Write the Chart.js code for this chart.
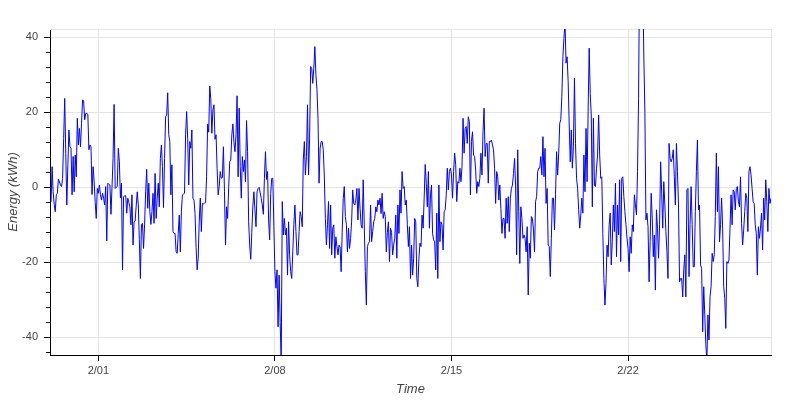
<!DOCTYPE html>
<html>
<head>
<meta charset="utf-8">
<script src="https://cdn.jsdelivr.net/npm/chart.js@4.4.0/dist/chart.umd.min.js"></script>
<style>
  html, body { margin: 0; padding: 0; background: #fff; }
</style>
</head>
<body>
<canvas id="energyChart" width="800" height="400"></canvas>
<script>
// hourly readings, hour 0 = 2/01 00:00, first reading 1/30 02:00
const firstHour = -46;
const lastHour = 640;

const energy = [
    // 1/30 02:00 - 2/02 11:00
    -3.4, -3.8, 5.5, -1.2, -4.5, -6.5, -2.0, -1.6, 2.2, 1.4,
    0.6, 0.2, 2.4, 13, 23.7, 9, -4.7, 6, 15.3, 10.8,
    10.4, -2.0, 8.2, -1.2, 8.6, 2.8, 18.4, 11.3, 15.7, 10.8,
    17, 23.3, 23.0, 18.0, 19.7, 19.7, 19.5, 10.0, 11.3, 10.8,
    -1.9, 5.5, 1.5, -4, -8.3, -0.3, -1.6, 0.6, -2, -3.4,
    -1.6, -2.9, -4.7, 0.2, -14.3, 1.1, 0.8, 0.6, -7.2, 0,
    7.7, 22.1, -0.3, 0, 0.2, 10.4, 6.8, -2.8, 1.1, -22.0,
    -2.5, -2.3, -2.2, -6.9, -2.9, -4, -5.2, -10.0, -2.0, -15.4,
    -9.2, -9.0,
    // 2/02 12:00 - 2/06 00:00
    -5, -1.2, -4.7, -14, -24.3, -10.0, -9.6, -16.3, -10.0, -1.2,
    4.8, -5.6, 1.1, -6.5, -9.9, -6.5, -1.6, -9.6, 3.7, -8.3,
    -2.9, 1.1, -5.2, 7.7, 11.3, 5.5, -5.4, 7.7, 18.8, 19.3,
    25.2, 14.0, 12.2, -2, 6.0, -11.8, -12.3, -12.3, -17.2, -17.6,
    -12.3, -7.4, -17.2, -6.5, -2.0, -1.8, -1.6, 14.0, 20.2, 13.1,
    0.6, 12.2, 10.4, 15.3, -2.9, -3.4, -7, -16, -22.0, -18.9,
    -9, -2.9, -11.8, -4.3, -4.4, -4.2, -4.1, 2.8, 16.9, 14.7,
    27.0, 23.6, 14.4, 20.6, 22.0, 12.8, 14.0, 5, -2.0, 0.2,
    4.2, 2.4, 2.6, 10.8, -1.2,
    // 2/06 01:00 - 2/09 14:00
    -15.4, -5.2, -8.3, 0, 6.8, 7.3, 14, 16.9, 12, 9.5,
    14.0, 24.4, 2.8, 21.1, 5.5, -2.9, 8.2, 4.2, 7.3, 1.5,
    17.8, 9.5, -9.2, -15.4, -19.2, -12, -5, -1.2, -6.0, -10.5,
    -1.2, -0.3, 0, -1.5, -3, -4.7, -7.2, 2.4, 9.5, 2.1,
    4.2, -8.7, -14.0, -1.6, 2.4, 2.4, -10.5, -22.5, -26.9, -22.0,
    -37.2, -23.4, -36, -47, -3.8, -12.7, -8.3, -12.7, -10.9, -23.4,
    -9.2, -18.0, -22.5, -24.3, -17.2, -10, -4.7, -11.8, -18.0, -18.0,
    -11.8, -6.5, -7.8, -10.5, 7.3, 12.2, 3.3, 8.2, 22.0, 3.3,
    13.1, 32.2, 31.7, 27.7, 31.7, 37.5,
    // 2/09 15:00 - 2/13 04:00
    30, 26.0, 18.4, 1.1, 10.4, 12.2, 12.2, 10, 3, -8.3,
    -15.4, -10.0, -3.8, -16.3, -4.7, -18.0, -10.9, -10.0, -18.9, -13.2,
    -15.8, -18.0, -15.4, -16, -22.5, -12, -3, 0.2, -7.8, -10,
    -17.2, -10.9, -16.3, -13.6, -9, -0.7, -4.3, -4.7, -3.4, -0.3,
    -8.7, -0.3, -5.6, -10.0, -10.9, 2.0, -10.0, -22.5, -31.4, -15.8,
    -14.9, -14.5, -4.7, -14.5, -11.8, -9.2, -8.3, -5.2, -6.5, -3.4,
    -4.7, -2.9, -7, -1.6, -8.3, -6.5, -7.8, -17.2, -12, -9.2,
    -19.8, -10.9, -12, -18.0, -15.4, -13.6, -7.4, -18.9, -4.7, -12.3,
    -0.7, -6.9, 4.2, -0.3, 0.2, -4.7,
    // 2/13 05:00 - 2/16 17:00
    -3.4, -10.0, -15.8, -10.5, -24.3, -15.4, -23.4, -18.9, -8.3, -9.2,
    -24.3, -26.5, -18.9, -14.9, -15.8, -7.4, -10.9, -2.9, 6.1, 1.1,
    -5.2, 4.2, -10.9, -2.0, 0.6, -12.3, -14.0, -14.5, -22.0, -6.9,
    -24.3, 0.6, -14.5, -9.2, -10.0, -16.7, -6.5, -6.0, -2.0, 5.1,
    -0.7, 4.2, 5.1, 3.3, -2.9, 4.2, 9.1, 6.0, -3.8, 1.5,
    1.1, 5.1, 1.5, 5.5, 18.4, 9.1, 15.7, 16.2, 11.7, 18.8,
    17.5, -2.0, 12.2, 14.8, 8.6, 8.2, 4.6, -1.6, 1.5, 0.2,
    2.4, 9.1, 3.3, 14.8, 21.1, 8.2, 11.7, 11.7, 1.1, 12.2,
    12.2, 12.6, 11.3, 10.0, 5.1,
    // 2/16 18:00 - 2/20 07:00
    -4.3, 4.2, 2.8, -3.4, 0.6, -5.6, -12.3, -8.3, -8.3, -13.6,
    -2.9, -9.6, -2.5, -11.8, -2.9, -0.3, 0.6, 3.7, 7.7, 0.6,
    -18.0, 10.0, -6.5, -20.3, -5.2, -8.3, -13.6, -12.7, -13.6, -17.2,
    -10.5, -28.7, -14.9, -18.9, -7.8, -8.3, -11.4, -17.2, -3.8, -2.5,
    4.2, 5.1, 5.1, 8.2, 3.3, 13.5, 2.8, 10.4, -4.3, -0.3,
    -15.4, -15.8, -23.8, -13.6, -2.9, -2.9, -11.4, -2.0, 9.5, 3.3,
    9.1, 17.1, 18.0, 24.2, 34.8, 39.7, 44, 33.1, 34.8, 28.2,
    16.6, 6.8, 15.3, 5.1, 10.8, 29.1, 11.7, 2.4, -0.3, -6.0,
    -10.9, -7.4, -2.9, -6.9, 8.6, -1.2,
    // 2/20 08:00 - 2/23 21:00
    15.7, 1.5, 20.2, 37.1, 25, 19.3, -5.2, 18.4, 0.6, 0.2,
    5.1, 8.6, 19.3, 8.6, 2.4, 2.8, -12.3, -24.3, -31.4, -25.6,
    -15.4, -18.5, -10.0, -6.9, -20.7, -14.5, -4.7, -11.8, 1.1, -18.5,
    -4.7, -12.7, 2.0, -19.8, 2.4, 2.8, -2.5, -6.5, -10, -13.6,
    -16.3, -22.5, -13.2, -17.6, -10.0, -11.8, -2.0, -4.7, -7.4, 4.2,
    23.7, 60, 65, 65, 55, 35, 20, -8.7, -6.9, -10.5,
    -25.2, -14.5, -1.6, -8.3, -18.5, -12.7, -27.4, -6.0, -10.9, -18.9,
    -10.0, 6.8, -1.6, -10.9, 1.5, -4.7, -11.8, -17.2, -24.3, 11.7,
    7.7, 6.8, 7.7, 10.0, 2.8, -4.7,
    // 2/23 22:00 - 2/27 16:00
    11.7, 4.2, -4.7, -25.2, -24.3, -24.3, -29.2, -22, -18.0, -29.2,
    -0.7, -0.3, -23.8, -10, 0.2, -10, -21.2, -21.2, -6.5, 4.2,
    12.6, -6.0, -4.7, -20.7, -21.6, -38.5, -26.5, -34.0, -42.0, -46,
    -34.0, -40.7, -29.2, -26.5, -17.6, -19.8, -18.0, -7.8, 9.1, -6.5,
    5.5, -14.5, -10.0, -2.9, -10.9, -26.5, -29.6, -37.6, -19.8, -20.3,
    -19.4, -10.9, -2.0, -10.0, -0.7, -1.2, -6.0, -0.3, 0.2, -3.8,
    -5.2, 2.8, -9.6, -15.4, -11.4, -6.5, -1.6, -2.9, -11.8, 4.2,
    5.5, 3.3, -0.3, -3.8, -4.3, -10.0, -12.3, -23.4, -10.5, -13.6,
    -10.9, -6.9, -16.7, -2.9, -8.7, 2.0, -3.8, -11.8, -0.3, -4.3, -2.9
];

const xTickHours = [0, 168, 336, 504];
const xTickLabels = ["2/01", "2/08", "2/15", "2/22"];
const yMajorTicks = [-40, -20, 0, 20, 40];
const yMinorTicks = [-44, -36, -32, -28, -24, -16, -12, -8, -4, 4, 8, 12, 16, 24, 28, 32, 36];
const yMin = -44.7;
const yMax = 42.2;

const points = energy.map((v, i) => ({ x: firstHour + i, y: v }));

const fontFamily = "'Liberation Sans', Arial, Helvetica, sans-serif";

// light frame on top/right plus short minor ticks on the y axis
const frameAndMinor = {
    id: "frameAndMinor",
    beforeDatasetsDraw(chart) {
        const { ctx, chartArea } = chart;
        ctx.save();
        ctx.strokeStyle = "#e5e5e5";
        ctx.lineWidth = 1;
        ctx.beginPath();
        ctx.moveTo(chartArea.left, chartArea.top + 0.5);
        ctx.lineTo(chartArea.right + 0.5, chartArea.top + 0.5);
        ctx.lineTo(chartArea.right + 0.5, chartArea.bottom);
        ctx.stroke();
        ctx.restore();
    },
    afterDraw(chart) {
        const { ctx, chartArea } = chart;
        const y = chart.scales.y;
        ctx.save();
        ctx.strokeStyle = "#000";
        ctx.lineWidth = 1;
        ctx.beginPath();
        yMinorTicks.forEach((v) => {
            const py = Math.round(y.getPixelForValue(v)) + 0.5;
            ctx.moveTo(chartArea.left - 4, py);
            ctx.lineTo(chartArea.left, py);
        });
        ctx.stroke();
        ctx.restore();
    }
};

new Chart(document.getElementById("energyChart"), {
    type: "line",
    data: {
        datasets: [{
            data: points,
            borderColor: "#0000ff",
            borderWidth: 1,
            pointRadius: 0,
            tension: 0,
            fill: false
        }]
    },
    options: {
        responsive: false,
        animation: false,
        devicePixelRatio: 1,
        layout: { padding: { top: 29, right: 29, left: 0, bottom: 0 } },
        plugins: {
            legend: { display: false },
            tooltip: { enabled: false }
        },
        scales: {
            x: {
                type: "linear",
                min: firstHour,
                max: lastHour,
                afterBuildTicks: (scale) => {
                    scale.ticks = xTickHours.map((v) => ({ value: v }));
                },
                afterFit: (scale) => { scale.height = 45; },
                ticks: {
                    autoSkip: false,
                    maxRotation: 0,
                    padding: 3,
                    color: "#444",
                    font: { family: fontFamily, size: 11 },
                    callback: (v) => xTickLabels[xTickHours.indexOf(v)]
                },
                grid: { color: "#e5e5e5", tickColor: "#000", tickLength: 6 },
                border: { color: "#000", width: 1 },
                title: {
                    display: true,
                    text: "Time",
                    color: "#444",
                    padding: { top: 0, bottom: 3 },
                    font: { family: fontFamily, size: 13, style: "italic" }
                }
            },
            y: {
                min: yMin,
                max: yMax,
                afterBuildTicks: (scale) => {
                    scale.ticks = yMajorTicks.map((v) => ({ value: v }));
                },
                afterFit: (scale) => { scale.width = 50; },
                ticks: {
                    padding: 6,
                    color: "#444",
                    font: { family: fontFamily, size: 11 },
                    callback: (v) => String(v)
                },
                grid: { color: "#e5e5e5", tickColor: "#000", tickLength: 6 },
                border: { color: "#000", width: 1 },
                title: {
                    display: true,
                    text: "Energy (kWh)",
                    color: "#444",
                    padding: { top: 6, bottom: 0 },
                    font: { family: fontFamily, size: 13, style: "italic" }
                }
            }
        }
    },
    plugins: [frameAndMinor]
});
</script>
</body>
</html>
